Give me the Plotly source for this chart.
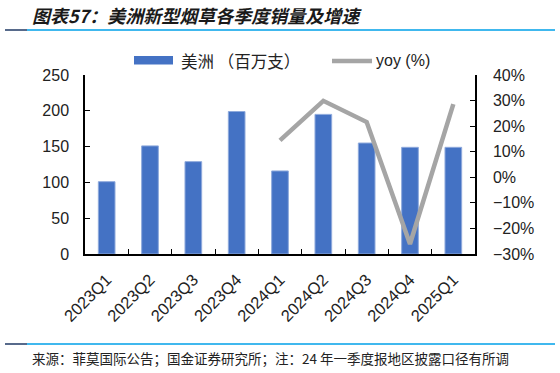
import plotly.graph_objects as go

quarters = ["2023Q1", "2023Q2", "2023Q3", "2023Q4", "2024Q1", "2024Q2", "2024Q3", "2024Q4", "2025Q1"]
sales = [101, 151, 129, 199, 116, 195, 155, 149, 149]
yoy_quarters = ["2024Q1", "2024Q2", "2024Q3", "2024Q4", "2025Q1"]
yoy = [14.4, 29.9, 21.6, -26.1, 28.6]
bar_name = "美洲 （百万支）"
line_name = "yoy (%)"

W, H = 560, 373
L, R, T, B = 85, 475, 75, 254

def px(x):
    return (x - L) / (R - L)

def py(y):
    return (B - y) / (B - T)

num_font = "Liberation Sans, Arial, sans-serif"
cjk_font = "Noto Sans CJK SC, sans-serif"
BLUE = "#4472C4"
GRAY = "#A5A5A5"

fig = go.Figure()
fig.add_trace(go.Bar(
    x=quarters, y=sales, name=bar_name,
    marker=dict(color=BLUE, line=dict(color="#8FAADC", width=1)),
    yaxis="y",
))
fig.add_trace(go.Scatter(
    x=yoy_quarters, y=yoy, name=line_name, mode="lines",
    line=dict(color=GRAY, width=4.5),
    yaxis="y2",
))

fig.update_layout(
    width=W, height=H,
    margin=dict(l=L, r=W - R, t=T, b=H - B, autoexpand=False),
    plot_bgcolor="white", paper_bgcolor="white",
    bargap=0.615,
    showlegend=False,
    xaxis=dict(
        type="category", categoryorder="array", categoryarray=quarters,
        showline=True, linecolor="black", linewidth=1.5,
        ticks="inside", ticklen=5, tickcolor="black", tickson="boundaries",
        tickangle=-45, tickfont=dict(family=num_font, size=16.5, color="#222"),
        ticklabelstandoff=8,
        showgrid=False, zeroline=False, automargin=False,
    ),
    yaxis=dict(
        range=[0, 250], dtick=50, showline=True, linecolor="black", linewidth=1.5,
        ticks="inside", ticklen=5, tickcolor="black",
        tickfont=dict(family=num_font, size=16, color="#222"),
        ticklabelstandoff=11,
        showgrid=False, zeroline=False, automargin=False,
    ),
    yaxis2=dict(
        range=[-30, 40], dtick=10, ticksuffix="%", overlaying="y", side="right",
        showline=True, linecolor="black", linewidth=1.5,
        ticks="inside", ticklen=5, tickcolor="black",
        tickfont=dict(family=num_font, size=16, color="#222"),
        ticklabelstandoff=13,
        showgrid=False, zeroline=False, automargin=False,
    ),
)

# legend (drawn manually)
fig.add_shape(type="rect", xref="paper", yref="paper",
              x0=px(134), x1=px(173), y0=py(64.5), y1=py(56),
              fillcolor=BLUE, line=dict(width=0))
fig.add_annotation(text=bar_name, x=px(179), y=py(61), xref="paper", yref="paper",
                   xanchor="left", yanchor="middle", showarrow=False,
                   font=dict(family=cjk_font, size=16.5, color="#222"))
fig.add_shape(type="line", xref="paper", yref="paper",
              x0=px(332), x1=px(372), y0=py(61), y1=py(61),
              line=dict(color=GRAY, width=4.5))
fig.add_annotation(text=line_name, x=px(374), y=py(61), xref="paper", yref="paper",
                   xanchor="left", yanchor="middle", showarrow=False,
                   font=dict(family=num_font, size=16, color="#222"))

# title
fig.add_annotation(
    text="<b><i>图表57：美洲新型烟草各季度销量及增速</i></b>",
    x=px(30), y=py(15), xref="paper", yref="paper",
    xanchor="left", yanchor="middle", showarrow=False,
    font=dict(family=cjk_font, size=18, color="#1a1a1a"),
)
# source
fig.add_annotation(
    text="来源：菲莫国际公告；国金证券研究所；注：24 年一季度报地区披露口径有所调",
    x=px(30), y=py(358), xref="paper", yref="paper",
    xanchor="left", yanchor="middle", showarrow=False,
    font=dict(family=cjk_font, size=13.5, color="#222"),
)

for yline in (30, 344):
    fig.add_shape(type="line", xref="paper", yref="paper",
                  x0=px(27), x1=px(555), y0=py(yline), y1=py(yline),
                  line=dict(color="#00A0E9", width=1.5))
    fig.add_shape(type="line", xref="paper", yref="paper",
                  x0=px(5), x1=px(27), y0=py(yline), y1=py(yline),
                  line=dict(color="#1F3864", width=1.5))

fig.write_html("out.html", config={"displayModeBar": False},
               post_script="document.body.style.margin='0';")
